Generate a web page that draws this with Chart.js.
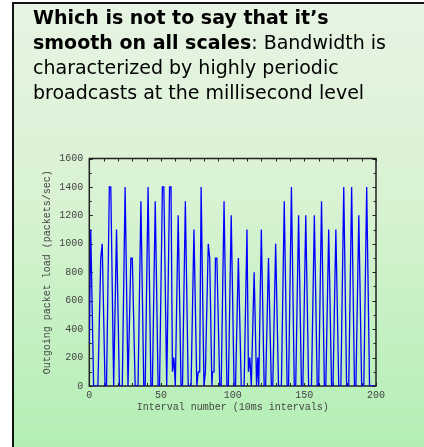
<!DOCTYPE html>
<html>
<head>
<meta charset="utf-8">
<script src="https://cdn.jsdelivr.net/npm/chart.js@4/dist/chart.umd.min.js"></script>
<style>
  html, body { margin: 0; padding: 0; background: #fff; }
  body { width: 424px; height: 447px; position: relative; overflow: hidden; }
  #slide {
    position: absolute; left: 12px; top: 2px; right: -4px; bottom: -4px;
    border-left: 2px solid #111; border-top: 2px solid #111;
    background: linear-gradient(to bottom, #e7f4e3 0%, #d8f2d2 45%, #b2efb4 100%);
  }
  #heading {
    position: absolute; left: 33px; top: 5px; width: 390px;
    font-family: "DejaVu Sans", sans-serif; font-size: 19px; line-height: 25px;
    color: #000; white-space: nowrap; z-index: 2;
  }
  #heading b { font-weight: bold; }
  #wrap { position: absolute; left: 0; top: 0; width: 424px; height: 447px; z-index: 1; }
</style>
</head>
<body>
<div id="slide"></div>
<div id="heading">
  <b>Which is not to say that it’s</b><br>
  <b>smooth on all scales</b>: Bandwidth is<br>
  characterized by highly periodic<br>
  broadcasts at the millisecond level
</div>
<div id="wrap"><canvas id="chart"></canvas></div>
<script>
// vertices of the trace (interval number, packets/sec)
const intervals = [
  0, 1, 3, 6, 8, 9, 11, 12, 14, 15, 17, 19, 21, 23, 25, 27, 29, 30, 32,
  34, 36, 38, 39, 41, 43, 44, 46, 48, 49, 51, 52, 54, 56, 57, 58, 59, 60,
  62, 64, 65, 67, 69, 71, 73, 75, 76, 77, 78, 80, 81, 83, 84, 85.5, 86, 87,
  88, 89, 91, 92, 94, 96, 97, 99, 101, 102, 104, 106, 108, 110, 111, 112, 113,
  115, 116.7, 117.5, 118.2, 120, 122, 123, 125, 127, 128, 130, 132, 134, 136, 138,
  139, 141, 143, 144, 146, 148, 149, 151, 153, 155, 157, 159, 160, 162, 164,
  165, 167, 169, 170, 172, 174, 175.5, 177.5, 179.5, 181, 183, 185, 186, 188, 190,
  191.5, 193.5, 195.5, 199
];
const load = [
  300, 1100, 0, 0, 900, 1000, 0, 0, 1400, 1400, 0, 1100, 0, 0, 1400, 0, 900, 900, 0,
  0, 1300, 0, 0, 1400, 0, 0, 1300, 0, 0, 1400, 1400, 0, 1400, 1400, 100, 200, 0,
  1200, 0, 0, 1300, 0, 0, 1100, 0, 100, 100, 1400, 0, 100, 1000, 900, 0, 100, 100,
  900, 900, 0, 0, 1300, 0, 0, 1200, 0, 0, 900, 0, 0, 1100, 100, 200, 0,
  800, 0, 200, 0, 1100, 0, 0, 900, 0, 0, 1000, 0, 0, 1300, 0,
  0, 1400, 0, 0, 1200, 0, 0, 1200, 0, 0, 1200, 0, 0, 1300, 0,
  0, 1100, 0, 0, 1100, 0, 0, 1400, 0, 0, 1400, 0, 0, 1200, 0,
  0, 1400, 0, 0
];

const xMin = 0, xMax = 200, xStep = 50, xMinor = 10;
const yMin = 0, yMax = 1600, yStep = 200, yMinor = 100;

const points = intervals.map((x, i) => ({ x: x, y: load[i] }));

// gnuplot style border with inward ticks on all four sides
const frameTicks = {
  id: 'frameTicks',
  beforeDatasetsDraw(chart) {
    const { ctx, chartArea: a, scales: { x, y } } = chart;
    ctx.save();
    ctx.strokeStyle = '#222';
    ctx.lineWidth = 1;
    ctx.beginPath();
    for (let v = yMin; v <= yMax; v += yMinor) {
      const py = Math.round(y.getPixelForValue(v)) + 0.5;
      const len = v % yStep === 0 ? 3.5 : 2.5;
      ctx.moveTo(a.left, py); ctx.lineTo(a.left + len, py);
      ctx.moveTo(a.right, py); ctx.lineTo(a.right - len, py);
    }
    for (let v = xMin; v <= xMax; v += xMinor) {
      const px = Math.round(x.getPixelForValue(v)) + 0.5;
      ctx.moveTo(px, a.bottom); ctx.lineTo(px, a.bottom - 3);
      ctx.moveTo(px, a.top); ctx.lineTo(px, a.top + 3);
    }
    ctx.stroke();
    ctx.lineWidth = 1.5;
    ctx.strokeRect(a.left, a.top, a.right - a.left, a.bottom - a.top);
    ctx.restore();
  }
};

const axisFont = { family: '"Liberation Mono", "DejaVu Sans Mono", monospace', size: 10 };
const plain = v => String(v);

new Chart(document.getElementById('chart').getContext('2d'), {
  type: 'line',
  data: {
    datasets: [{
      data: points,
      borderColor: '#0000ff',
      borderWidth: 1.3,
      pointRadius: 0,
      tension: 0,
      fill: false
    }]
  },
  options: {
    responsive: true,
    maintainAspectRatio: false,
    animation: false,
    layout: { padding: { left: 0, right: 48, top: 158.5, bottom: 31 } },
    plugins: { legend: { display: false }, tooltip: { enabled: false } },
    scales: {
      x: {
        type: 'linear',
        min: xMin, max: xMax,
        grid: { display: false, drawTicks: false },
        border: { display: false },
        ticks: { stepSize: xStep, color: '#444', font: axisFont, padding: 3, maxRotation: 0, callback: plain },
        title: { display: true, text: 'Interval number (10ms intervals)', color: '#444', font: axisFont, padding: { top: 0, bottom: 3 } },
        afterFit(scale) { scale.height = 30; }
      },
      y: {
        min: yMin, max: yMax,
        grid: { display: false, drawTicks: false },
        border: { display: false },
        ticks: { stepSize: yStep, color: '#444', font: axisFont, padding: 6, callback: plain },
        title: { display: true, text: 'Outgoing packet load (packets/sec)', color: '#444', font: axisFont, padding: { top: 41, bottom: 0 } },
        afterFit(scale) { scale.width = 89.3; }
      }
    }
  },
  plugins: [frameTicks]
});
</script>
</body>
</html>
